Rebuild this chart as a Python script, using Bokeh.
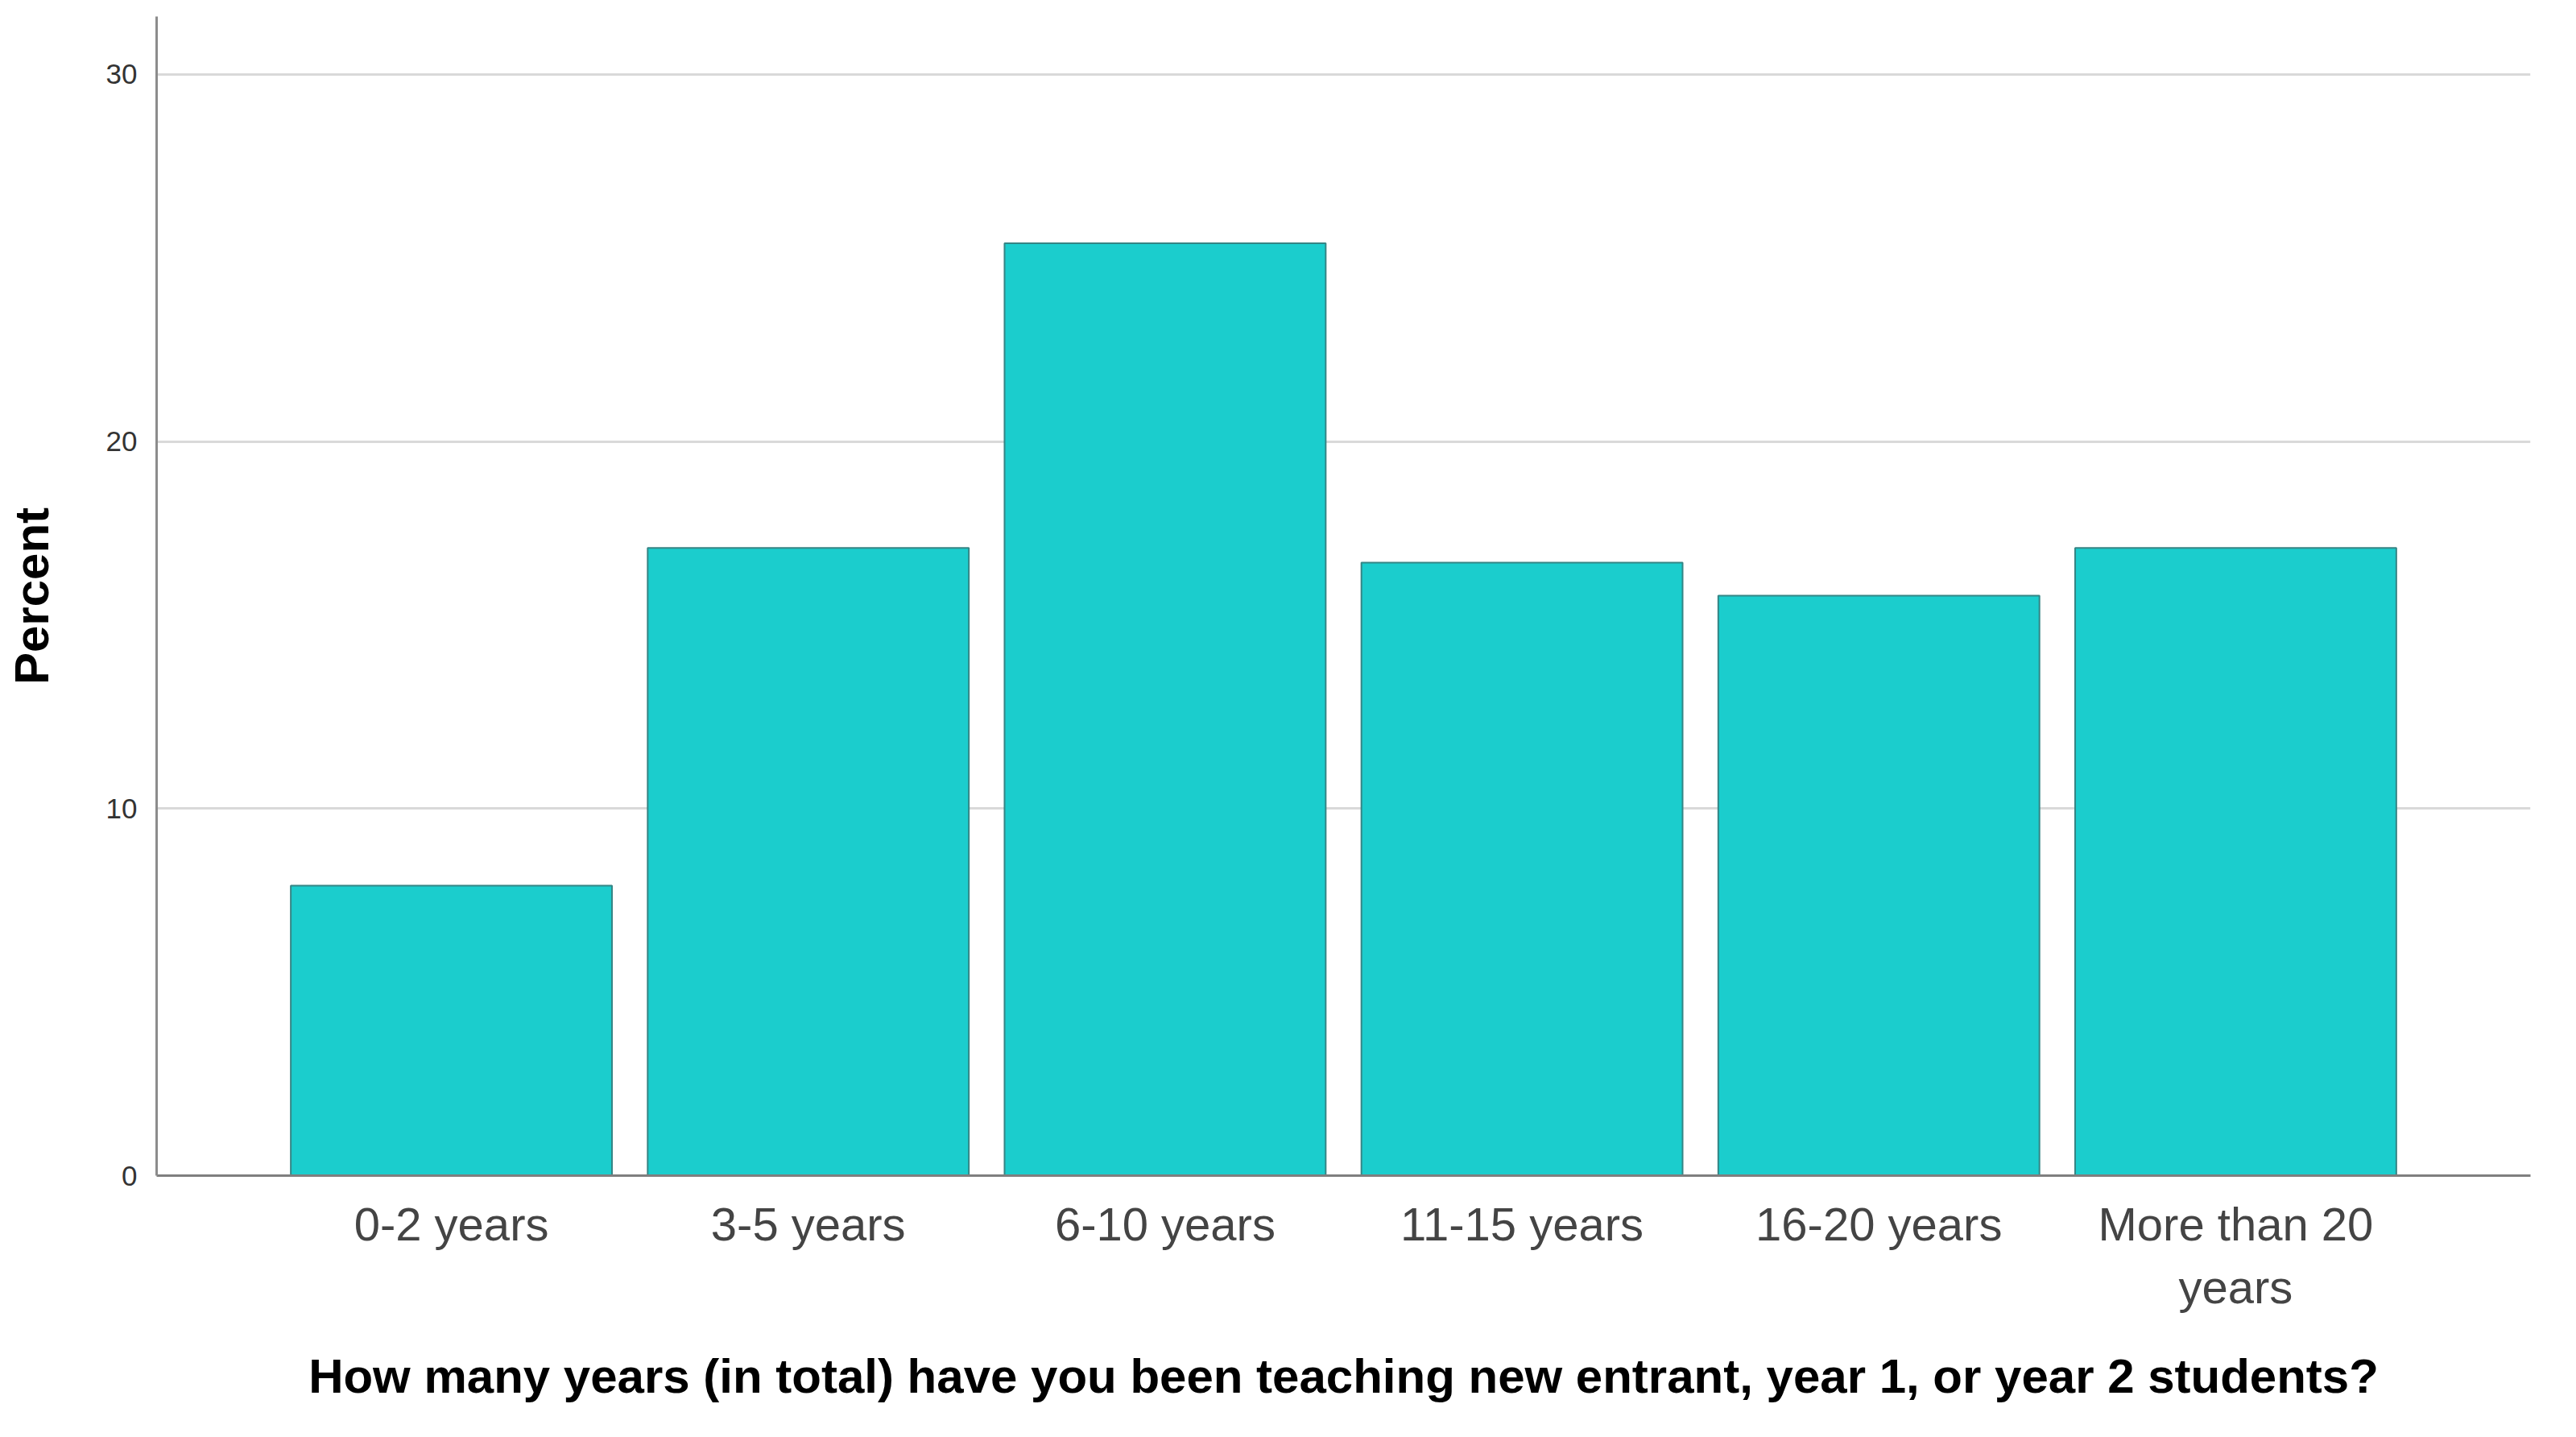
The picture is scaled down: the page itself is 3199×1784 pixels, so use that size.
from bokeh.plotting import figure
from bokeh.models import FactorRange, FixedTicker, Range1d, ColumnDataSource
from bokeh.embed import file_html
from bokeh.resources import INLINE

# ---- data ----
categories = ["0-2 years", "3-5 years", "6-10 years", "11-15 years", "16-20 years", "More than 20\nyears"]
percent = [7.9, 17.1, 25.4, 16.7, 15.8, 17.1]
y_ticks = [0, 10, 20, 30]
x_title = "How many years (in total) have you been teaching new entrant, year 1, or year 2 students?"
y_title = "Percent"

source = ColumnDataSource(data=dict(cat=categories, pct=percent))

x_range = FactorRange(*categories, range_padding=0.326, range_padding_units="absolute")

p = figure(
    x_range=x_range,
    y_range=Range1d(0, 31.58),
    width=3180,
    height=1765,
    output_backend="svg",
    toolbar_location=None,
    min_border_left=194,
    min_border_right=38,
    min_border_top=20,
    min_border_bottom=306,
)
p.outline_line_color = None
p.background_fill_color = "white"
p.border_fill_color = "white"

p.vbar(x="cat", top="pct", width=0.9, source=source,
       fill_color="#1BCDCD", line_color="#358585", line_width=2)

font = "Liberation Sans"

# y axis
p.yaxis.ticker = FixedTicker(ticks=y_ticks)
p.yaxis.axis_label = y_title
p.yaxis.axis_label_text_font = font
p.yaxis.axis_label_text_font_size = "60px"
p.yaxis.axis_label_text_font_style = "bold"
p.yaxis.axis_label_text_color = "black"
p.yaxis.axis_label_standoff = 56
p.yaxis.major_label_text_font = font
p.yaxis.major_label_text_font_size = "35px"
p.yaxis.major_label_text_color = "#333333"
p.yaxis.major_label_standoff = 24
p.yaxis.major_tick_out = 0
p.yaxis.major_tick_in = 0
p.yaxis.minor_tick_line_color = None
p.yaxis.axis_line_color = "#8c8c8c"
p.yaxis.axis_line_width = 3

# x axis
p.xaxis.axis_label = x_title
p.xaxis.axis_label_text_font = font
p.xaxis.axis_label_text_font_size = "60px"
p.xaxis.axis_label_text_font_style = "bold"
p.xaxis.axis_label_text_color = "black"
p.xaxis.axis_label_standoff = 42
p.xaxis.major_label_text_font = font
p.xaxis.major_label_text_font_size = "58px"
p.xaxis.major_label_text_color = "#444444"
p.xaxis.major_label_standoff = 27
p.xaxis.major_tick_out = 0
p.xaxis.major_tick_in = 0
p.xaxis.minor_tick_line_color = None
p.xaxis.axis_line_color = "#7f7f7f"
p.xaxis.axis_line_width = 3

# grid
p.xgrid.grid_line_color = None
p.ygrid.ticker = FixedTicker(ticks=y_ticks[1:])
p.ygrid.grid_line_color = "#d9d9d9"
p.ygrid.grid_line_width = 3

open("out.html", "w").write(file_html(p, INLINE))
